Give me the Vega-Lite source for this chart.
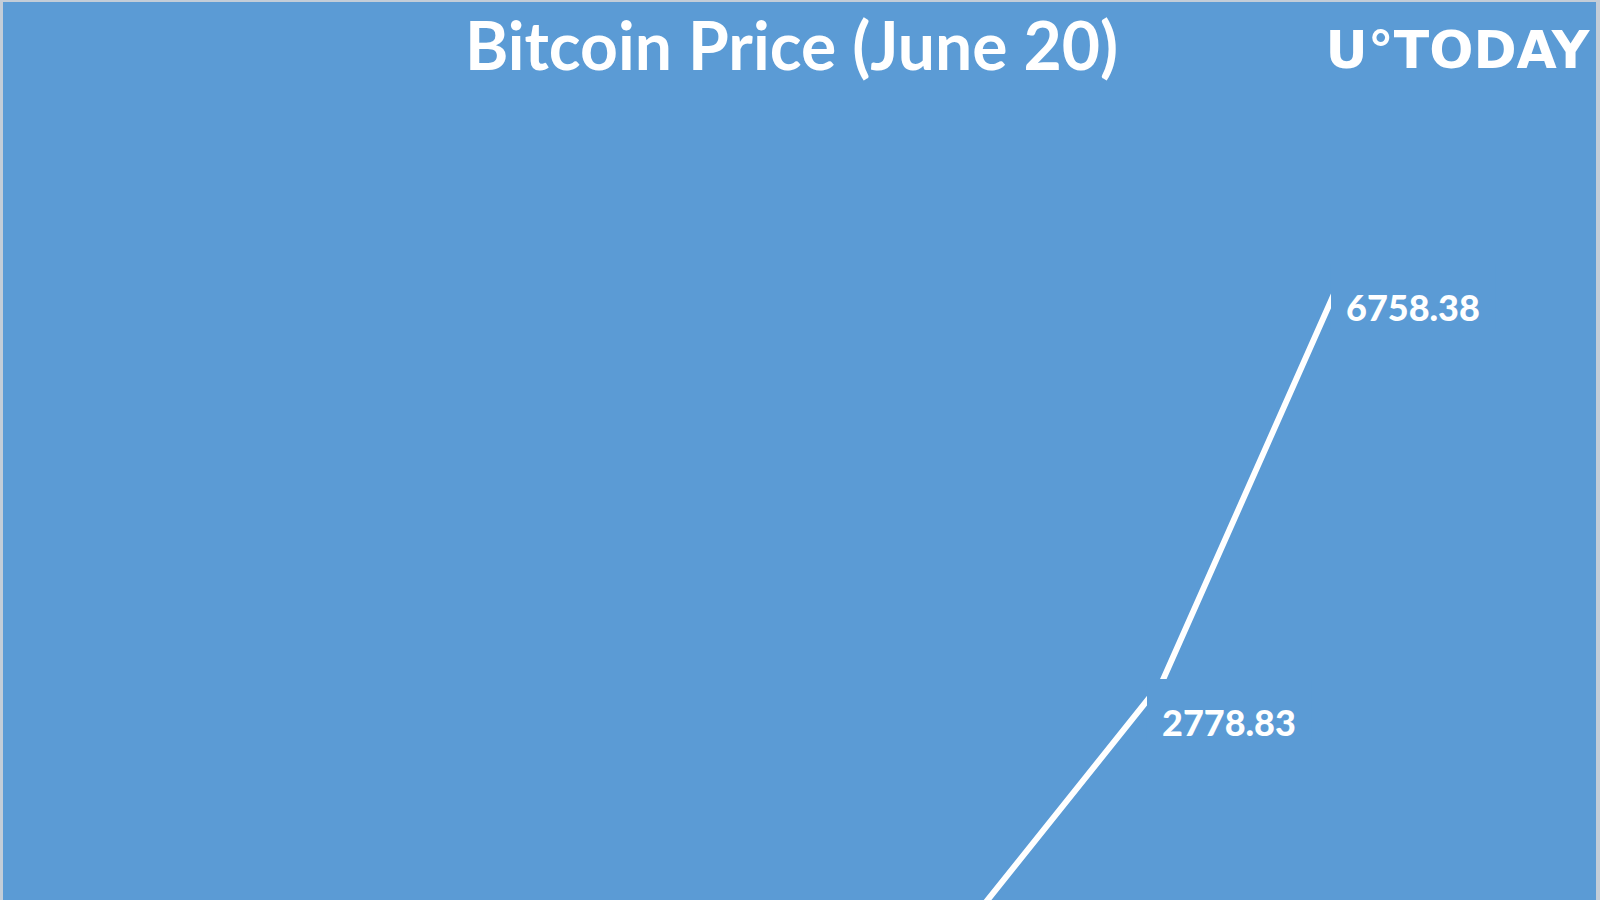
{
  "$schema": "https://vega.github.io/schema/vega-lite/v6.json",
  "width": 1593,
  "height": 898,
  "autosize": "none",
  "padding": {"left": 3, "top": 2, "right": 4, "bottom": 0},
  "background": "#C3CDD8",
  "view": {"fill": "#5B9BD5", "stroke": null},
  "title": {
    "text": "Bitcoin Price (June 20)",
    "font": "Lato",
    "fontSize": 66,
    "fontWeight": "bold",
    "color": "white",
    "anchor": "middle",
    "frame": "group",
    "baseline": "alphabetic",
    "offset": -66,
    "dy": 68,
    "dx": -8
  },
  "data": {
    "values": [
      {"year": 2016, "price": 573},
      {"year": 2017, "price": 2778.83},
      {"year": 2018, "price": 6758.38}
    ]
  },
  "encoding": {
    "x": {
      "field": "year",
      "type": "quantitative",
      "scale": {"domain": [2010.7011, 2019.3587], "nice": false, "zero": false},
      "axis": {
        "orient": "top",
        "title": "U°TODAY",
        "domain": false,
        "ticks": false,
        "labels": false,
        "grid": false,
        "titleFont": "DejaVu Sans",
        "titleFontWeight": "bold",
        "titleFontSize": 52,
        "titleColor": "white",
        "titleAnchor": "end",
        "titleAlign": "right",
        "titleBaseline": "alphabetic",
        "titleX": 1586,
        "titlePadding": -65
      }
    },
    "y": {
      "field": "price",
      "type": "quantitative",
      "scale": {"domain": [688, 9300], "nice": false, "zero": false},
      "axis": null
    }
  },
  "layer": [
    {
      "mark": {"type": "line", "color": "white", "strokeWidth": 6, "clip": true}
    },
    {
      "transform": [{"filter": "datum.price >= 688"}],
      "mark": {"type": "rect", "color": "#5B9BD5", "xOffset": -15, "x2Offset": 150, "yOffset": -3, "y2Offset": 62, "clip": true},
      "encoding": {
        "x2": {"field": "year"},
        "y2": {"field": "price"}
      }
    },
    {
      "transform": [{"filter": "datum.price >= 688"}],
      "mark": {"type": "text", "align": "left", "baseline": "middle", "dy": 43, "font": "Lato", "fontSize": 36, "fontWeight": 900, "color": "white"},
      "encoding": {
        "text": {"field": "price", "type": "quantitative", "format": ".2f"}
      }
    }
  ]
}
